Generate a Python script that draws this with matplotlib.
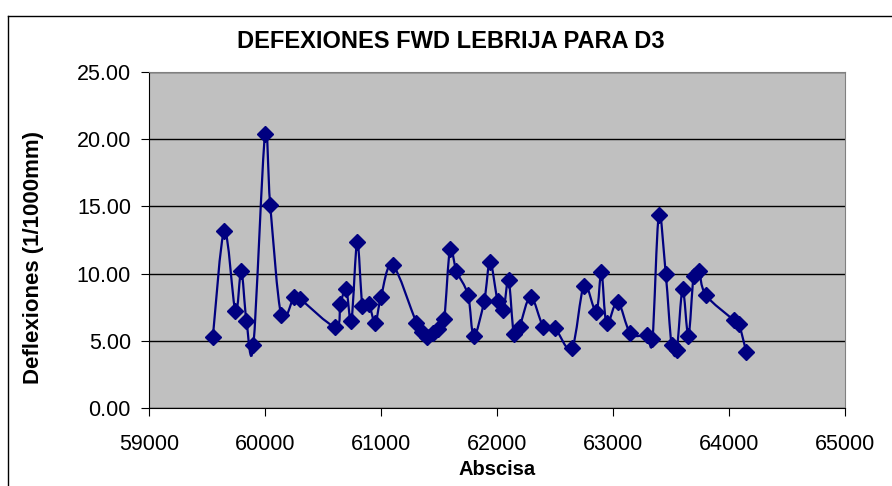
import numpy as np
import matplotlib
matplotlib.use("Agg")
import matplotlib.pyplot as plt
from matplotlib.path import Path
from matplotlib.patches import PathPatch
from matplotlib.lines import Line2D

# data
abscisa = [59550, 59650, 59745, 59795, 59840, 59900, 60000, 60045, 60140, 60250,
           60300, 60605, 60650, 60700, 60745, 60795, 60840, 60895, 60950, 61000,
           61100, 61305, 61355, 61400, 61450, 61495, 61545, 61595, 61650, 61750,
           61800, 61890, 61940, 62005, 62055, 62100, 62145, 62195, 62290, 62400,
           62500, 62645, 62750, 62855, 62900, 62945, 63040, 63150, 63290, 63340,
           63395, 63455, 63505, 63550, 63600, 63650, 63695, 63740, 63800, 64040,
           64085, 64150]
deflexiones = [5.25, 13.2, 7.2, 10.2, 6.5, 4.7, 20.35, 15.1, 6.9, 8.28,
               8.13, 6.05, 7.74, 8.85, 6.5, 12.37, 7.6, 7.74, 6.35, 8.28,
               10.64, 6.35, 5.63, 5.26, 5.56, 5.86, 6.65, 11.83, 10.19, 8.41,
               5.36, 7.98, 10.89, 7.98, 7.29, 9.52, 5.51, 6.05, 8.28, 6.05,
               5.93, 4.44, 9.1, 7.17, 10.1, 6.3, 7.91, 5.56, 5.41, 5.11,
               14.34, 9.95, 4.69, 4.32, 8.83, 5.38, 9.82, 10.22, 8.41, 6.55,
               6.25, 4.14]
x_ticks = [59000, 60000, 61000, 62000, 63000, 64000, 65000]
y_ticks = [0, 5, 10, 15, 20, 25]

NAVY = "#000080"
plt.rcParams['font.family'] = ['Liberation Sans', 'DejaVu Sans']

fig = plt.figure(figsize=(8.92, 4.86), dpi=100)
ax = fig.add_axes([149 / 892, 1 - 408 / 486, 696 / 892, 336 / 486])
ax.set_facecolor("#C0C0C0")

# smoothed connecting line (cubic bezier through the points, like Excel's smooth line)
pts = np.column_stack([abscisa, deflexiones]).astype(float)
verts = [pts[0]]
codes = [Path.MOVETO]
n = len(pts)
for i in range(n - 1):
    p_prev = pts[i - 1] if i > 0 else pts[i]
    p_next2 = pts[i + 2] if i + 2 < n else pts[i + 1]
    c1 = pts[i] + (pts[i + 1] - p_prev) / 6
    c2 = pts[i + 1] - (p_next2 - pts[i]) / 6
    verts += [c1, c2, pts[i + 1]]
    codes += [Path.CURVE4] * 3
ax.add_patch(PathPatch(Path(verts, codes), facecolor="none", edgecolor=NAVY, lw=1.6, zorder=3))
ax.plot(abscisa, deflexiones, linestyle="none", marker="D", markersize=8,
        color=NAVY, zorder=4)

ax.set_xlim(59000, 65000)
ax.set_ylim(0, 25)
ax.set_xticks(x_ticks)
ax.set_yticks(y_ticks)
ax.set_yticklabels([f"{v:.2f}" for v in y_ticks])
ax.yaxis.grid(True, color="black", lw=1)
ax.set_axisbelow(True)
ax.tick_params(axis="both", direction="out", length=6, labelsize=15.5, color="black")
ax.tick_params(axis="y", pad=7)
ax.tick_params(axis="x", pad=13)
for side in ["left", "bottom"]:
    ax.spines[side].set_color("black")
for side in ["top", "right"]:
    ax.spines[side].set_color("#808080")

ax.set_xlabel("Abscisa", fontsize=14.5, fontweight="bold", labelpad=3)
ax.set_ylabel("Deflexiones (1/1000mm)", fontsize=16, fontweight="bold", va="center")
ax.yaxis.set_label_coords((34 - 149) / 696, (408 - 258) / 336)
fig.text(0.505, 1 - 42 / 486, "DEFEXIONES FWD LEBRIJA PARA D3", ha="center", va="center",
         fontsize=17, fontweight="bold")

# outer chart frame (cut off at right and bottom)
fig.add_artist(Line2D([8 / 892, 8 / 892], [0, 1 - 16 / 486], color="black", lw=1))
fig.add_artist(Line2D([8 / 892, 1], [1 - 16 / 486, 1 - 16 / 486], color="black", lw=1))

fig.savefig("out.png", dpi=100)
